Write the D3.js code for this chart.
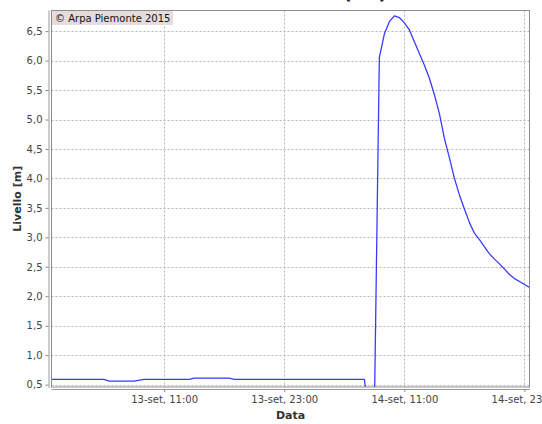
<!DOCTYPE html>
<html>
<head>
<meta charset="utf-8">
<script src="https://cdn.jsdelivr.net/npm/d3@7"></script>
<style>
  html, body { margin: 0; padding: 0; background: #fff; }
  svg { display: block; font-family: "DejaVu Sans", sans-serif; }
</style>
</head>
<body>
<svg id="chart" width="542" height="424"></svg>
<script>
// Water level readings (half-hour steps around the flood peak)
const times = [
  "2015-09-12 23:45", "2015-09-13 05:00", "2015-09-13 05:30", "2015-09-13 08:00",
  "2015-09-13 09:00", "2015-09-13 13:30", "2015-09-13 14:00", "2015-09-13 17:30",
  "2015-09-13 18:00", "2015-09-14 07:00", "2015-09-14 07:30", "2015-09-14 08:00",
  "2015-09-14 08:30", "2015-09-14 09:00", "2015-09-14 09:30", "2015-09-14 10:00",
  "2015-09-14 10:30", "2015-09-14 11:00", "2015-09-14 11:30", "2015-09-14 12:00",
  "2015-09-14 12:30", "2015-09-14 13:00", "2015-09-14 13:30", "2015-09-14 14:00",
  "2015-09-14 14:30", "2015-09-14 15:00", "2015-09-14 15:30", "2015-09-14 16:00",
  "2015-09-14 16:30", "2015-09-14 17:00", "2015-09-14 17:30", "2015-09-14 18:00",
  "2015-09-14 18:30", "2015-09-14 19:00", "2015-09-14 19:30", "2015-09-14 20:00",
  "2015-09-14 20:30", "2015-09-14 21:00", "2015-09-14 21:30", "2015-09-14 22:00",
  "2015-09-14 22:30", "2015-09-14 23:00", "2015-09-14 23:30"
];
const levels = [
  0.59, 0.59, 0.56, 0.56,
  0.59, 0.59, 0.61, 0.61,
  0.59, 0.59, 0.00, 0.00,
  6.05, 6.45, 6.66, 6.76,
  6.73, 6.64, 6.52, 6.32,
  6.12, 5.92, 5.70, 5.42,
  5.10, 4.68, 4.35, 4.00,
  3.72, 3.48, 3.25, 3.07,
  2.96, 2.84, 2.72, 2.63,
  2.55, 2.46, 2.37, 2.30,
  2.25, 2.20, 2.15
];

// Axis ticks
const xTickTimes = ["2015-09-13 11:00", "2015-09-13 23:00", "2015-09-14 11:00", "2015-09-14 23:00"];
const xTickLabels = ["13-set, 11:00", "13-set, 23:00", "14-set, 11:00", "14-set, 23:00"];
const yTickValues = [0.5, 1.0, 1.5, 2.0, 2.5, 3.0, 3.5, 4.0, 4.5, 5.0, 5.5, 6.0, 6.5];
const yDomain = [0.46, 6.85];

const titleText = "(AL)";
const xAxisTitle = "Data";
const yAxisTitle = "Livello [m]";
const copyrightText = "\u00A9 Arpa Piemonte 2015";

const parse = d3.utcParse("%Y-%m-%d %H:%M");
const data = times.map((t, i) => ({ t: parse(t), v: levels[i] }));

const plot = { left: 51.5, right: 529.5, top: 10.5, bottom: 387 };

const svg = d3.select("#chart");

const x = d3.scaleUtc()
  .domain(d3.extent(data, d => d.t))
  .range([plot.left, plot.right]);
const y = d3.scaleLinear()
  .domain(yDomain)
  .range([plot.bottom, plot.top]);

// Plot background
svg.append("rect")
  .attr("x", plot.left).attr("y", plot.top)
  .attr("width", plot.right - plot.left).attr("height", plot.bottom - plot.top)
  .attr("fill", "#fff");

// Grid lines
const grid = svg.append("g").attr("stroke", "#b4b4b4").attr("stroke-dasharray", "2,2").attr("stroke-width", 1);
grid.selectAll("line.h").data(yTickValues).join("line")
  .attr("class", "h")
  .attr("x1", plot.left).attr("x2", plot.right)
  .attr("y1", d => Math.round(y(d)) + 0.5).attr("y2", d => Math.round(y(d)) + 0.5);
grid.selectAll("line.v").data(xTickTimes.map(parse)).join("line")
  .attr("class", "v")
  .attr("y1", plot.top).attr("y2", plot.bottom)
  .attr("x1", d => Math.round(x(d)) + 0.5).attr("x2", d => Math.round(x(d)) + 0.5);

// Series line, clipped to the plot area
svg.append("clipPath").attr("id", "plotClip")
  .append("rect")
  .attr("x", plot.left).attr("y", plot.top)
  .attr("width", plot.right - plot.left).attr("height", plot.bottom - plot.top);

const line = d3.line().x(d => x(d.t)).y(d => y(d.v));
svg.append("path")
  .datum(data)
  .attr("clip-path", "url(#plotClip)")
  .attr("fill", "none")
  .attr("stroke", "#3a3aff")
  .attr("stroke-width", 1.3)
  .attr("stroke-linejoin", "round")
  .attr("d", line);

// Plot outline
svg.append("rect")
  .attr("x", plot.left).attr("y", plot.top)
  .attr("width", plot.right - plot.left).attr("height", plot.bottom - plot.top)
  .attr("fill", "none").attr("stroke", "#8c8c8c").attr("stroke-width", 1);

// Copyright box
const cr = svg.append("g");
cr.append("rect")
  .attr("x", plot.left + 0.5).attr("y", plot.top + 0.5)
  .attr("width", 121).attr("height", 14)
  .attr("fill", "#e6dcdc");
cr.append("text")
  .attr("x", plot.left + 3.5).attr("y", plot.top + 11.5)
  .attr("font-size", 10).attr("fill", "#111")
  .text(copyrightText);

// Y axis
const yAxis = d3.axisLeft(y)
  .tickValues(yTickValues)
  .tickSize(3)
  .tickPadding(3)
  .tickFormat(d => d3.format(".1f")(d).replace(".", ","));
const gy = svg.append("g")
  .attr("transform", `translate(${plot.left - 3},0)`)
  .call(yAxis);
gy.select(".domain").attr("stroke", "#999").attr("d", `M0.5,${plot.top}V${plot.bottom + 1}`);
gy.selectAll(".tick line").attr("stroke", "#888");
gy.selectAll(".tick text").attr("fill", "#444").attr("font-size", 10).attr("font-family", "DejaVu Sans, sans-serif");

// X axis
const xAxis = d3.axisBottom(x)
  .tickValues(xTickTimes.map(parse))
  .tickSize(3)
  .tickPadding(4)
  .tickFormat((d, i) => xTickLabels[i]);
const gx = svg.append("g")
  .attr("transform", `translate(0,${plot.bottom + 2})`)
  .call(xAxis);
gx.select(".domain").attr("stroke", "#999").attr("d", `M${plot.left},0.5H${plot.right}`);
gx.selectAll(".tick line").attr("stroke", "#888");
gx.selectAll(".tick text").attr("fill", "#444").attr("font-size", 10).attr("font-family", "DejaVu Sans, sans-serif");

// Axis titles
svg.append("text")
  .attr("x", (plot.left + plot.right) / 2).attr("y", 419)
  .attr("text-anchor", "middle")
  .attr("font-size", 11).attr("font-weight", "bold").attr("fill", "#333")
  .text(xAxisTitle);
svg.append("text")
  .attr("transform", `translate(21,${(plot.top + plot.bottom) / 2}) rotate(-90)`)
  .attr("text-anchor", "middle")
  .attr("font-size", 11).attr("font-weight", "bold").attr("fill", "#333")
  .text(yAxisTitle);

// Chart title (sits above the visible area; only the bracket tails show)
svg.append("text")
  .attr("x", 365).attr("y", -0.8)
  .attr("text-anchor", "middle")
  .attr("font-size", 19).attr("font-weight", "bold").attr("fill", "#222")
  .text(titleText);
</script>
</body>
</html>
